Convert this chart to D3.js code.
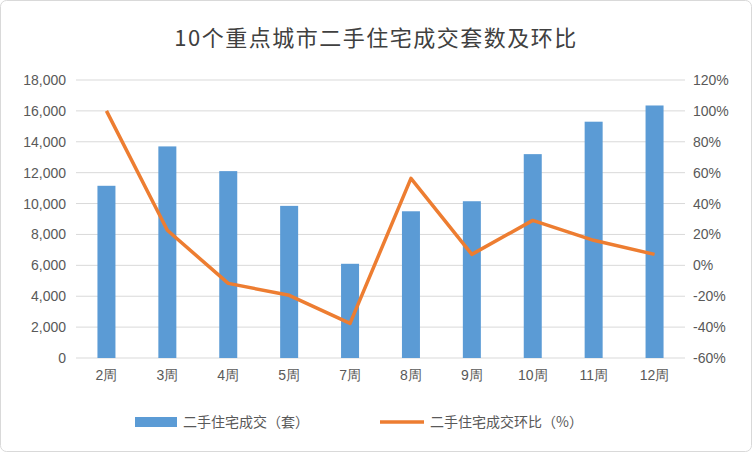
<!DOCTYPE html>
<html><head><meta charset="utf-8">
<script src="https://cdn.jsdelivr.net/npm/d3@7"></script>
<style>body{margin:0;background:#fff}svg{font-family:"Noto Sans CJK SC","DejaVu Sans",sans-serif}</style>
</head><body>
<svg id="chart" width="752" height="452"></svg>
<script>
// chart data
const weeks = ["2周","3周","4周","5周","7周","8周","9周","10周","11周","12周"];
const deals = [11150, 13700, 12100, 9850, 6100, 9500, 10150, 13200, 15300, 16350];
const ratio = [100, 22.7, -11.7, -19.4, -37.6, 56.3, 7.1, 29.1, 16.2, 7.1];
const leftTicks = d3.range(0, 18001, 2000);
const rightTicks = d3.range(-60, 121, 20);

const svg = d3.select("#chart");
const plotLeft = 76, plotRight = 685, plotTop = 80, plotBottom = 358;

svg.append("rect").attr("x", 0.5).attr("y", 0.5).attr("width", 751).attr("height", 451)
    .attr("rx", 6).attr("fill", "#fff").attr("stroke", "#d9d9d9");

svg.append("text").attr("x", 376).attr("y", 46).attr("text-anchor", "middle")
    .attr("font-size", 22).attr("fill", "#404040").attr("letter-spacing", 1.5)
    .text("10个重点城市二手住宅成交套数及环比");

const x = d3.scaleBand().domain(weeks).range([plotLeft, plotRight]);
const y = d3.scaleLinear().domain([0, 18000]).range([plotBottom, plotTop]);
const y2 = d3.scaleLinear().domain([-60, 120]).range([plotBottom, plotTop]);

// gridlines
svg.append("g").selectAll("line").data(leftTicks).join("line")
    .attr("x1", plotLeft).attr("x2", plotRight)
    .attr("y1", d => y(d)).attr("y2", d => y(d))
    .attr("stroke", "#d9d9d9");

// axes
const yAxis = svg.append("g").attr("transform", `translate(${plotLeft},0)`)
    .call(d3.axisLeft(y).tickValues(leftTicks).tickSize(0).tickPadding(10));
const y2Axis = svg.append("g").attr("transform", `translate(${plotRight},0)`)
    .call(d3.axisRight(y2).tickValues(rightTicks).tickSize(0).tickPadding(8).tickFormat(d => d + "%"));
const xAxis = svg.append("g").attr("transform", `translate(0,${plotBottom})`)
    .call(d3.axisBottom(x).tickSize(0).tickPadding(12));
[yAxis, y2Axis, xAxis].forEach(a => {
    a.select(".domain").remove();
    a.selectAll("text").attr("font-size", 14).attr("fill", "#595959");
});

// bars
svg.append("g").selectAll("rect").data(deals).join("rect")
    .attr("x", (d, i) => x(weeks[i]) + x.bandwidth() / 2 - 9)
    .attr("width", 18)
    .attr("y", d => y(d)).attr("height", d => plotBottom - y(d))
    .attr("fill", "#5b9bd5");

// line
const line = d3.line().x((d, i) => x(weeks[i]) + x.bandwidth() / 2).y(d => y2(d));
svg.append("path").datum(ratio).attr("d", line)
    .attr("fill", "none").attr("stroke", "#ed7d31").attr("stroke-width", 3.5)
    .attr("stroke-linejoin", "round");

// legend
const lg = svg.append("g").attr("font-size", 14).attr("fill", "#595959");
lg.append("rect").attr("x", 135).attr("y", 417).attr("width", 42).attr("height", 10).attr("fill", "#5b9bd5");
lg.append("text").attr("x", 183).attr("y", 427).text("二手住宅成交（套）");
lg.append("line").attr("x1", 380).attr("x2", 424).attr("y1", 422).attr("y2", 422)
    .attr("stroke", "#ed7d31").attr("stroke-width", 3.5);
lg.append("text").attr("x", 430).attr("y", 427).text("二手住宅成交环比（%）");
</script>
</body></html>
